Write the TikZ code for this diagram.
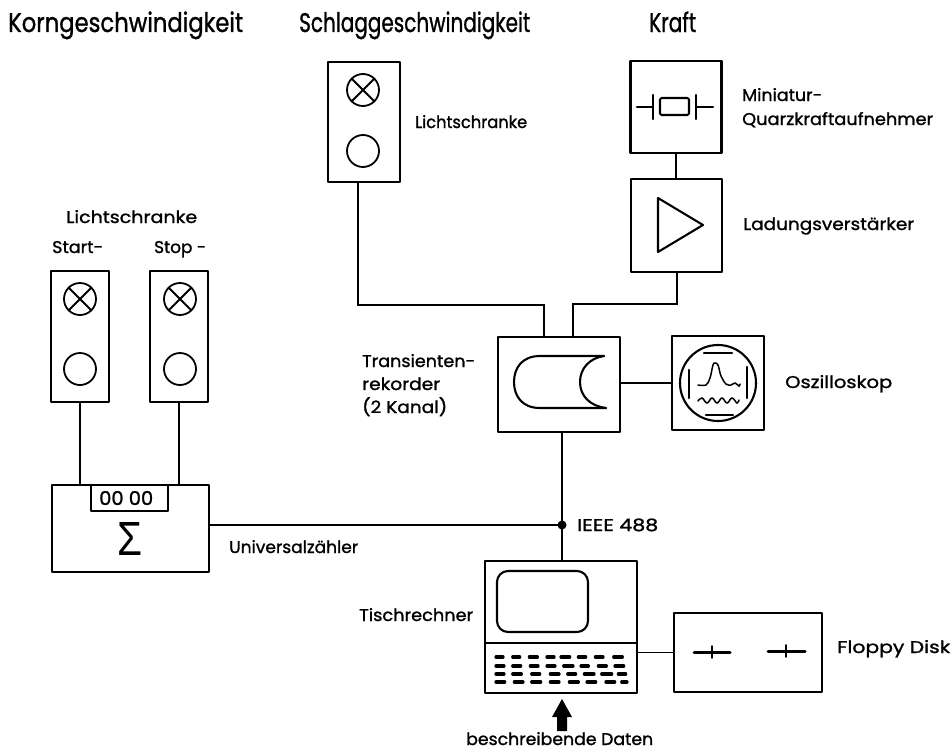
\documentclass[tikz,border=0pt]{standalone}
\usepackage{fontspec}
\usepackage{graphicx}
\setmainfont[FakeBold=1.2]{Poppins}
\newfontfamily\sgfont{Liberation Sans}
\newcommand{\fw}[2]{\resizebox{#1pt}{\height}{#2}}
\begin{document}
\begin{tikzpicture}[x=1pt,y=-1pt,
  box/.style={draw,line width=2.2pt,inner sep=0pt,outer sep=0pt,line join=round},
  lamp/.style={draw,circle,line width=1.8pt,minimum size=32pt,inner sep=0pt,outer sep=0pt},
  wire/.style={line width=1.3pt},
  sym/.style={line width=2.1pt,line cap=round,line join=round},
  thick sym/.style={line width=3pt,line cap=round},
  title/.style={anchor=base west,inner sep=0pt,font=\fontsize{27}{29}\selectfont},
  lbl/.style={anchor=base west,inner sep=0pt,font=\fontsize{17}{19}\selectfont}]
\useasboundingbox (0,0) rectangle (952,752);
% titles
\node[title] (t1) at (8,32) {\fw{235}{Korngeschwindigkeit}};
\node[title] (t2) at (299,32) {\fw{231}{Schlaggeschwindigkeit}};
\node[title] (t3) at (649,32) {\fw{47}{Kraft}};
% boxes
\node[box,minimum width=72pt,minimum height=120pt] (ls) at (364,122) {};
\node[box,minimum width=91pt,minimum height=92pt] (quarz) at (676,107) {};
\node[box,minimum width=91pt,minimum height=93pt] (amp) at (676.5,225.5) {};
\node[box,minimum width=122pt,minimum height=95pt] (trans) at (559,384.5) {};
\node[box,minimum width=92pt,minimum height=94pt] (osz) at (718,383) {};
\node[box,minimum width=58pt,minimum height=131pt] (start) at (80,336.5) {};
\node[box,minimum width=58pt,minimum height=131pt] (stop) at (179,336.5) {};
\node[box,minimum width=157pt,minimum height=87pt] (uni) at (130.5,528.5) {};
\node[box,minimum width=77pt,minimum height=26pt,anchor=north] (disp) at (129.5,485) {};
\node[box,minimum width=152pt,minimum height=132pt] (comp) at (561,627) {};
\node[box,minimum width=148pt,minimum height=79pt] (floppy) at (748,652.5) {};
% lamps
\node[lamp] (l1) at (363,90) {}; \draw[sym] (l1.north west)--(l1.south east) (l1.north east)--(l1.south west);
\node[lamp] (l2) at (363,151) {};
\node[lamp] (l3) at (80,299) {}; \draw[sym] (l3.north west)--(l3.south east) (l3.north east)--(l3.south west);
\node[lamp] (l4) at (80,369) {};
\node[lamp] (l5) at (180,299) {}; \draw[sym] (l5.north west)--(l5.south east) (l5.north east)--(l5.south west);
\node[lamp] (l6) at (180,369) {};
% connectors
\coordinate (bendA) at (358,305);
\coordinate (inA) at (544,337);
\coordinate (bendB) at (677,304);
\coordinate (inB) at (573,337);
\coordinate (junc) at (562,525);
\draw[wire] (ls.south -| bendA) -- (bendA) -- (bendA -| inA) -- (inA);
\draw[wire] (amp.south -| bendB) -- (bendB) -- (bendB -| inB) -- (inB);
\draw[wire] (quarz.south) -- (quarz.south |- amp.north);
\draw[wire] (osz.west -| trans.east) -- (osz.west);
\draw[wire] (trans.south -| junc) -- (comp.north -| junc);
\draw[wire] (uni.east |- junc) -- (junc);
\fill (junc) circle (4.5pt);
\draw[wire] (start.south) -- (uni.north -| start.south);
\draw[wire] (stop.south) -- (uni.north -| stop.south);
\draw[wire] (comp.east |- floppy.west) -- (floppy.west);
% quartz symbol
\draw[sym] (637,107)--(653,107) (653,95)--(653,119) (696,95)--(696,119) (696,107)--(713,107);
\draw[sym,rounded corners=1.5pt] (660,98) rectangle (689,115);
% amplifier
\draw[sym] (658,198)--(703,225)--(658,252)--cycle;
% recorder
\draw[sym] (604,356)--(540,356) .. controls (522,356) and (514,368) .. (514,382) .. controls (514,396) and (522,408) .. (540,408) -- (606,408);
\draw[sym] (604,356) .. controls (590,358) and (580,368) .. (580,382) .. controls (580,396) and (590,406) .. (606,408);
% oscilloscope
\node[draw,circle,line width=2.1pt,minimum size=76pt,inner sep=0pt] (tube) at (718,383) {};
\draw[thick sym,line width=2.6pt] (704,353)--(732,353) (706,415)--(733,415) (689,370)--(689,398) (747,367)--(747,398);
\draw[line width=1.5pt,line cap=round] plot[smooth,tension=0.6] coordinates {(698,385) (706,385) (710,378) (713,365) (715,363) (718,365) (721,376) (726,384) (731,385) (735,383) (739,386) (740,384)};
\draw[line width=1.5pt,line cap=round] plot[smooth,tension=0.7] coordinates {(698,401) (702,398) (707,403) (712,398) (717,403) (722,398) (727,403) (732,398) (737,403) (739,400)};
% computer
\draw[box] (comp.west |- 0,643) -- (comp.east |- 0,643);
\draw[sym,rounded corners=11pt] (497,571) rectangle (588,632);
\foreach \row/\yy/\list in {
 1/657/{75/102,125/152,175/205,228/255,270/302,322/350,373/402,428/460},
 2/666/{75/105,125/155,178/207,228/258,278/312,330/358,382/412,432/464},
 3/674/{75/105,125/157,182/212,238/270,290/320,340/375,392/428,442/470},
 4/682/{75/107,130/162,182/215,238/270,295/328,348/380,405/437,452/474}}{
  \foreach \a/\b in \list {
    \draw[line width=3.2pt,line cap=round] ({470+\a/3+1},\yy)--({470+\b/3-1},\yy);
  }
}
% floppy
\draw[thick sym] (694,652)--(730,652) (768,651)--(805,651);
\draw[sym,line width=1.9pt] (712,646)--(712,658) (786,645)--(786,657);
% arrow
\fill (562,699)--(572,717)--(567,717)--(567,731)--(557,731)--(557,717)--(552,717)--cycle;
% sigma, display
\node[inner sep=0pt] (sig) at (130,539) {\resizebox{25pt}{33pt}{\sgfont Σ}};
\node[lbl,font=\fontsize{19}{21}\selectfont] (cnt) at (99,505) {\fw{54}{00 00}};
% labels
\node[lbl] (a) at (415,128) {\fw{112}{Lichtschranke}};
\node[lbl] (b) at (742,101) {\fw{80}{Miniatur-}};
\node[lbl] (c) at (742,125) {\fw{191}{Quarzkraftaufnehmer}};
\node[lbl] (d) at (743,230) {\fw{171}{Ladungsverstärker}};
\node[lbl] (e) at (66,223) {\fw{131}{Lichtschranke}};
\node[lbl] (f) at (52,253) {\fw{51}{Start-}};
\node[lbl] (g) at (154,253) {\fw{52}{Stop -}};
\node[lbl] (h) at (362,367) {\fw{113}{Transienten-}};
\node[lbl] (i) at (362,390) {\fw{78}{rekorder}};
\node[lbl] (j) at (362,413) {\fw{85}{(2 Kanal)}};
\node[lbl] (k) at (785,388) {\fw{107}{Oszilloskop}};
\node[lbl] (m) at (577,531) {\fw{81}{IEEE 488}};
\node[lbl] (n) at (229,553) {\fw{129}{Universalzähler}};
\node[lbl] (o) at (359,621) {\fw{114}{Tischrechner}};
\node[lbl] (p) at (837,653) {\fw{113}{Floppy Disk}};
\node[lbl] (q) at (466,745) {\fw{187}{beschreibende Daten}};
\end{tikzpicture}
\end{document}
